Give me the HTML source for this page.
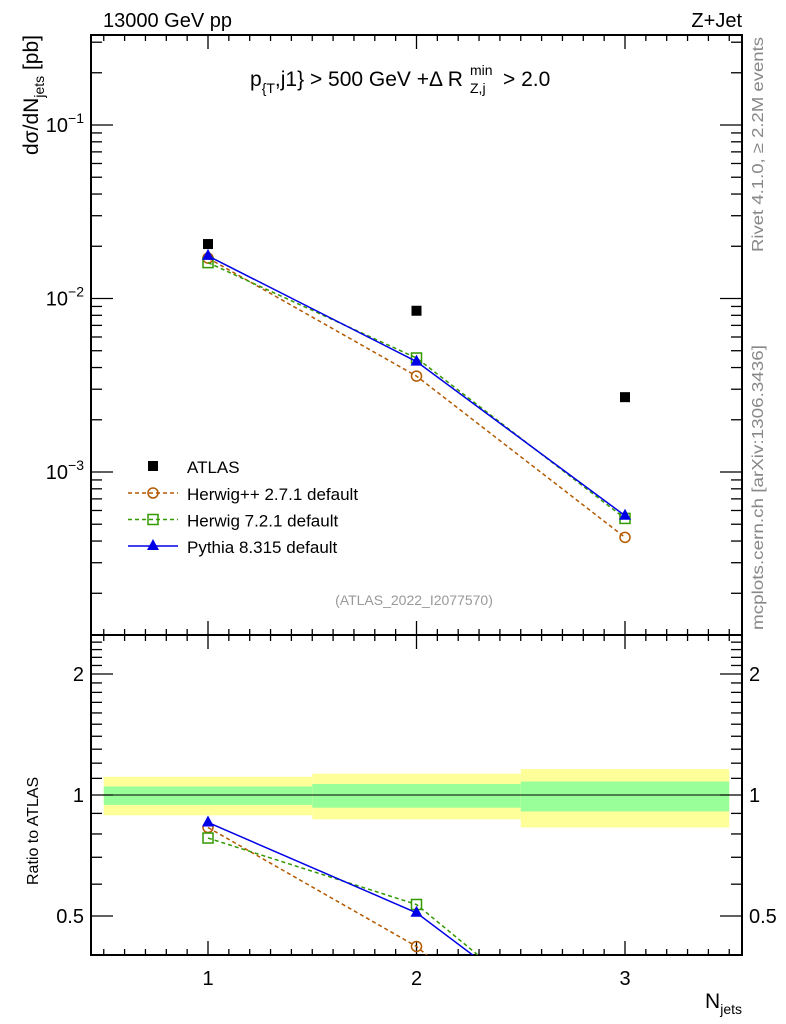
<!DOCTYPE html>
<html><head><meta charset="utf-8"><style>
html,body{margin:0;padding:0;background:#fff;width:786px;height:1024px;overflow:hidden;position:relative}
svg{display:block;font-family:"Liberation Sans",sans-serif}
</style></head><body>
<svg id="c" width="786" height="1024" viewBox="0 0 786 1024" style="position:absolute;left:0;top:0"></svg>
<script>
const categories=[1,2,3];
const binEdges=[0.5,1.5,2.5,3.5];
const atlas=[0.0206,0.0085,0.0027];
const herwigpp=[0.0171,0.00357,0.00042];
const herwig7=[0.0161,0.00454,0.00054];
const pythia=[0.0176,0.00433,0.00056];
const bandInner=[[0.945,1.05],[0.93,1.065],[0.91,1.08]];
const bandOuter=[[0.89,1.11],[0.87,1.13],[0.83,1.16]];
const mainTickLabels=["10^-1","10^-2","10^-3"];
const ratioTickLabels=["0.5","1","2"];

const NS="http://www.w3.org/2000/svg";
const svg=document.getElementById('c');
const L=91,R=742,T=35,M=635,B=955;
const X=v=>208+(v-1)*208.5;
const Y=v=>125-(Math.log10(v)+1)*173.5;
const YR=v=>795-Math.log10(v)*402;
function el(tag,attrs,parent){const e=document.createElementNS(NS,tag);for(const k in attrs)e.setAttribute(k,attrs[k]);(parent||svg).appendChild(e);return e;}
function txt(x,y,s,attrs,parent){const e=el('text',Object.assign({x:x,y:y},attrs||{}),parent);e.textContent=s;return e;}

const defs=el('defs',{});
const cp1=el('clipPath',{id:'cm'},defs);el('rect',{x:L,y:T,width:R-L,height:M-T},cp1);
const cp2=el('clipPath',{id:'cr'},defs);el('rect',{x:L,y:M,width:R-L,height:B-M},cp2);

const gb=el('g',{'clip-path':'url(#cr)'});


for(let i=0;i<categories.length;i++){
  const x0=X(binEdges[i]),x1=X(binEdges[i+1]);
  const r1=el('rect',{x:x0,y:YR(bandOuter[i][1]),width:x1-x0,height:YR(bandOuter[i][0])-YR(bandOuter[i][1]),fill:'#ffff99'},gb);
  
  
  const r2=el('rect',{x:x0,y:YR(bandInner[i][1]),width:x1-x0,height:YR(bandInner[i][0])-YR(bandInner[i][1]),fill:'#99ff99'},gb);
  
  
}
const ln1=el('line',{x1:X(binEdges[0]),x2:X(binEdges[3]),y1:YR(1),y2:YR(1),stroke:'#000','stroke-width':1});



const f=el('rect',{x:L,y:T,width:R-L,height:B-T,fill:'none',stroke:'#000','stroke-width':2});


el('line',{x1:L,x2:R,y1:M,y2:M,stroke:'#000','stroke-width':2});

for(let k=5;k<=35;k++){
  const v=k/10,x=X(v);if(x<L||x>R)continue;
  const major=(k%10===0),len=major?14:6;
  [[T,1],[M,-1],[M,1],[B,-1]].forEach(([y0,d])=>el('line',{x1:x,x2:x,y1:y0,y2:y0+d*len,stroke:'#000','stroke-width':1.3}));
}
categories.forEach(c=>{const t=txt(X(c),985,String(c),{'font-size':20,'text-anchor':'middle'});
});

for(let e=-4;e<=-1;e++){for(let m=1;m<=9;m++){
  const v=m*Math.pow(10,e),y=Y(v);if(y<T||y>M)continue;
  const len=m===1?22:11;
  el('line',{x1:L,x2:L+len,y1:y,y2:y,stroke:'#000','stroke-width':1.3});
  el('line',{x1:R,x2:R-len,y1:y,y2:y,stroke:'#000','stroke-width':1.3});
}}
[-1,-2,-3].forEach((e,i)=>{const g=el('text',{x:84,y:Y(Math.pow(10,e))+7,'font-size':20,'text-anchor':'end'});

const p=mainTickLabels[i].split('^');
const a=el('tspan',{},g);a.textContent=p[0];const b=el('tspan',{dy:-9,'font-size':14},g);b.textContent='\u2212'+p[1].slice(1);});

for(let k=4;k<=25;k++){const v=k/10,y=YR(v);if(y<M||y>B)continue;
  const len=(k===5||k===10||k===20)?22:11;
  el('line',{x1:L,x2:L+len,y1:y,y2:y,stroke:'#000','stroke-width':1.3});
  el('line',{x1:R,x2:R-len,y1:y,y2:y,stroke:'#000','stroke-width':1.3});}
ratioTickLabels.forEach(s=>{const v=parseFloat(s);
 const a=txt(84,YR(v)+7,s,{'font-size':20,'text-anchor':'end'});
 const b=txt(749,YR(v)+7,s,{'font-size':20});});

function marker(kind,x,y,color,parent){
  if(kind==='sq')return el('rect',{x:x-5,y:y-5,width:10,height:10,fill:'#000'},parent);
  if(kind==='circ')return el('circle',{cx:x,cy:y,r:5,fill:'none',stroke:color,'stroke-width':1.5},parent);
  if(kind==='osq')return el('rect',{x:x-5,y:y-5,width:10,height:10,fill:'none',stroke:color,'stroke-width':1.5},parent);
  return el('path',{d:`M${x},${y-7}L${x+6},${y+4}L${x-6},${y+4}Z`,fill:color},parent);
}
const series=[
 {name:'herwigpp',vals:herwigpp,color:'#b35900',dash:'4,3',kind:'circ',label:'Herwig++ 2.7.1 default'},
 {name:'herwig7',vals:herwig7,color:'#339900',dash:'4,3',kind:'osq',label:'Herwig 7.2.1 default'},
 {name:'pythia',vals:pythia,color:'#0000e6',dash:null,kind:'tri',label:'Pythia 8.315 default'}];
series.forEach(s=>{
  const g=el('g',{'clip-path':'url(#cm)'});
  
  
  const pl=el('polyline',{points:categories.map((c,i)=>X(c)+','+Y(s.vals[i])).join(' '),fill:'none',stroke:s.color,'stroke-width':1.5},g);
  if(s.dash)pl.setAttribute('stroke-dasharray',s.dash);
  categories.forEach((c,i)=>{const m=marker(s.kind,X(c),Y(s.vals[i]),s.color,g);});
  const g2=el('g',{'clip-path':'url(#cr)'});
  
  
  const pl2=el('polyline',{points:categories.map((c,i)=>X(c)+','+YR(s.vals[i]/atlas[i])).join(' '),fill:'none',stroke:s.color,'stroke-width':1.5},g2);
  if(s.dash)pl2.setAttribute('stroke-dasharray',s.dash);
  categories.forEach((c,i)=>{const m=marker(s.kind,X(c),YR(s.vals[i]/atlas[i]),s.color,g2);});
});
const ga=el('g',{});


categories.forEach((c,i)=>{const m=marker('sq',X(c),Y(atlas[i]),'#000',ga);});

const lg=el('g',{});


marker('sq',153,466,'#000',lg);
const ta=txt(187,473,'ATLAS',{'font-size':17},lg);


series.forEach((s,i)=>{const y=493+i*26.5;
  const l=el('line',{x1:128,x2:178,y1:y,y2:y,stroke:s.color,'stroke-width':1.5},lg);if(s.dash)l.setAttribute('stroke-dasharray',s.dash);
  marker(s.kind,153,y,s.color,lg);
  const t=txt(187,y+7,s.label,{'font-size':17},lg);
  });
</script>
<svg width="786" height="1024" style="position:absolute;left:0;top:0;font-family:'Liberation Sans',sans-serif;pointer-events:none">
<text x="103" y="27" font-size="20">13000 GeV pp</text>
<text x="742" y="27" font-size="20" text-anchor="end">Z+Jet</text>
<text x="250" y="86" font-size="21">p<tspan dy="7" font-size="14">{T</tspan><tspan dy="-7">,j1} &gt; 500 GeV +Δ R</tspan><tspan dy="-11" x="470" font-size="14">min</tspan><tspan dy="18" x="470" font-size="14">Z,j</tspan><tspan dy="-7" x="503">&gt; 2.0</tspan></text>
<text x="414" y="605" font-size="14" fill="#999" text-anchor="middle">(ATLAS_2022_I2077570)</text>
<text transform="translate(38,35) rotate(-90)" font-size="21" text-anchor="end">dσ/dN<tspan dy="6" font-size="14">jets</tspan><tspan dy="-6"> [pb]</tspan></text>
<text transform="translate(38,885) rotate(-90)" font-size="16">Ratio to ATLAS</text>
<text x="742" y="1008" font-size="21" text-anchor="end">N<tspan dy="6" font-size="14">jets</tspan></text>
<text transform="translate(763,252) rotate(-90)" font-size="16" fill="#888" textLength="215" lengthAdjust="spacingAndGlyphs">Rivet 4.1.0, ≥ 2.2M events</text>
<text transform="translate(763,630) rotate(-90)" font-size="16" fill="#888" textLength="285" lengthAdjust="spacingAndGlyphs">mcplots.cern.ch [arXiv:1306.3436]</text>
</svg>
</body></html>
